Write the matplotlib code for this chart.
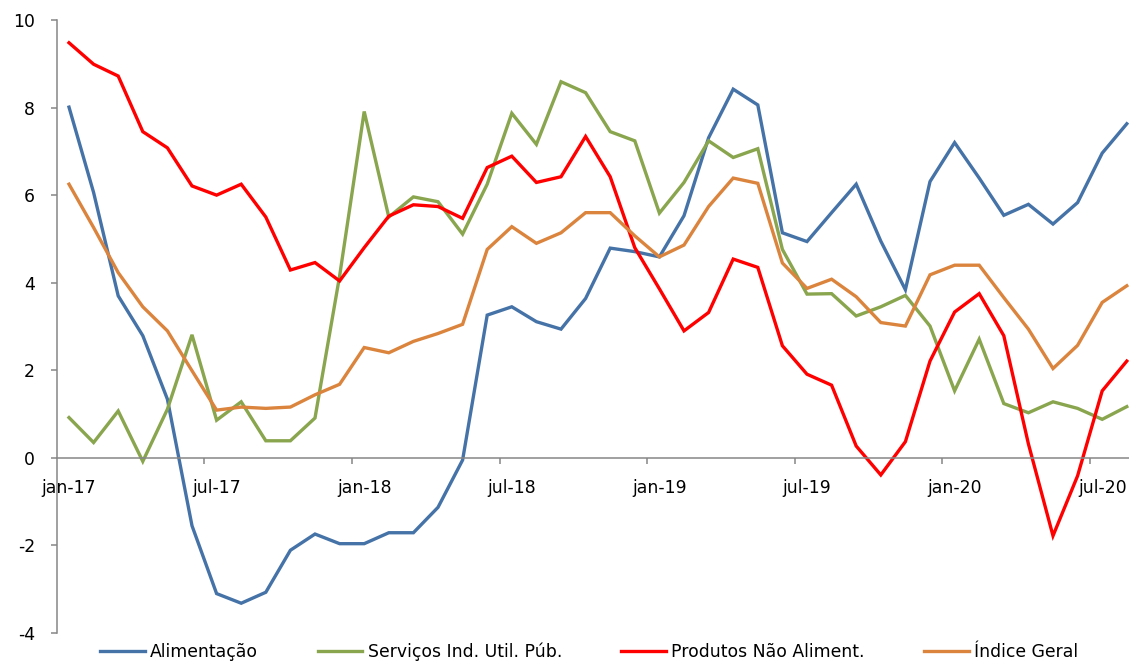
import numpy as np
import matplotlib
matplotlib.use("Agg")
import matplotlib.pyplot as plt

# Monthly series, jan-17 .. aug-20 (year-on-year change, %)
months = [
    "jan-17", "fev-17", "mar-17", "abr-17", "mai-17", "jun-17",
    "jul-17", "ago-17", "set-17", "out-17", "nov-17", "dez-17",
    "jan-18", "fev-18", "mar-18", "abr-18", "mai-18", "jun-18",
    "jul-18", "ago-18", "set-18", "out-18", "nov-18", "dez-18",
    "jan-19", "fev-19", "mar-19", "abr-19", "mai-19", "jun-19",
    "jul-19", "ago-19", "set-19", "out-19", "nov-19", "dez-19",
    "jan-20", "fev-20", "mar-20", "abr-20", "mai-20", "jun-20",
    "jul-20", "ago-20",
]

alimentacao = [
    8.01, 6.06, 3.70, 2.79, 1.34, -1.55, -3.10, -3.32, -3.07, -2.11, -1.74, -1.96,
    -1.96, -1.71, -1.71, -1.13, -0.05, 3.26, 3.45, 3.11, 2.94, 3.64, 4.79, 4.71,
    4.59, 5.53, 7.31, 8.42, 8.06, 5.14, 4.94, 5.60, 6.25, 4.95, 3.84, 6.31,
    7.20, 6.39, 5.54, 5.79, 5.34, 5.83, 6.96, 7.63,
]

servicos = [
    0.92, 0.35, 1.07, -0.08, 1.11, 2.81, 0.86, 1.28, 0.39, 0.39, 0.91, 4.15,
    7.91, 5.50, 5.96, 5.85, 5.11, 6.25, 7.87, 7.16, 8.59, 8.34, 7.45, 7.24,
    5.59, 6.29, 7.24, 6.86, 7.06, 4.76, 3.74, 3.75, 3.24, 3.45, 3.71, 3.01,
    1.53, 2.71, 1.24, 1.03, 1.28, 1.13, 0.88, 1.17,
]

produtos = [
    9.48, 8.99, 8.72, 7.45, 7.08, 6.21, 6.00, 6.25, 5.50, 4.29, 4.46, 4.04,
    4.80, 5.52, 5.78, 5.74, 5.47, 6.63, 6.89, 6.29, 6.42, 7.34, 6.42, 4.80,
    3.86, 2.90, 3.32, 4.54, 4.35, 2.56, 1.91, 1.66, 0.27, -0.39, 0.37, 2.21,
    3.33, 3.75, 2.79, 0.32, -1.78, -0.41, 1.53, 2.21,
]

indice_geral = [
    6.25, 5.26, 4.23, 3.45, 2.90, 1.99, 1.09, 1.16, 1.13, 1.16, 1.44, 1.68,
    2.52, 2.40, 2.66, 2.84, 3.05, 4.76, 5.28, 4.90, 5.14, 5.60, 5.60, 5.07,
    4.59, 4.86, 5.74, 6.39, 6.27, 4.45, 3.87, 4.08, 3.68, 3.09, 3.01, 4.18,
    4.40, 4.40, 3.66, 2.94, 2.04, 2.57, 3.55, 3.93,
]

series = [
    ("Alimentação", alimentacao, "#4572A7"),
    ("Serviços Ind. Util. Púb.", servicos, "#89A54E"),
    ("Produtos Não Aliment.", produtos, "#FF0000"),
    ("Índice Geral", indice_geral, "#DB843D"),
]

plt.rcParams.update({
    "font.family": "DejaVu Sans",
    "font.size": 12.2,
    "axes.unicode_minus": False,
})

AXIS_GREY = "#868686"

fig = plt.figure(figsize=(11.29, 6.61), dpi=100)
# axes run slightly past the right edge, as in the exported sheet
ax = fig.add_axes([56.7 / 1129, 28 / 661, 1082.4 / 1129, 613 / 661])

x = np.arange(len(months))
for label, vals, color in series:
    ax.plot(x, vals, color=color, linewidth=2.4, label=label,
            solid_joinstyle="miter", clip_on=False)

ax.set_xlim(-0.5, len(months) - 0.5)
ax.set_ylim(-4, 10)
ax.set_yticks(np.arange(-4, 11, 2))

for side in ("top", "right"):
    ax.spines[side].set_visible(False)
ax.spines["bottom"].set_position(("data", 0))
for side in ("left", "bottom"):
    ax.spines[side].set_color(AXIS_GREY)
    ax.spines[side].set_linewidth(1.1)

# tick marks sit between categories every six months; labels on the category
ax.set_xticks(np.arange(5.5, len(months) - 1, 6))
ax.set_xticks(x[::6], minor=True)
ax.set_xticklabels([])
ax.set_xticklabels([months[i] for i in x[::6]], minor=True)
ax.tick_params(axis="x", which="major", length=4.5, width=1.1, color=AXIS_GREY,
               direction="out")
ax.tick_params(axis="x", which="minor", length=0, pad=15, labelsize=12.4)
ax.tick_params(axis="y", length=4.5, width=1.1, color=AXIS_GREY, pad=11,
               labelsize=12.4)

fig.legend(
    loc="center",
    bbox_to_anchor=(0.522, 0.014),
    ncol=4,
    frameon=False,
    handlelength=2.6,
    handletextpad=0.3,
    columnspacing=3.45,
    fontsize=12.4,
    borderpad=0.0,
)

fig.savefig("out.png", dpi=100)
